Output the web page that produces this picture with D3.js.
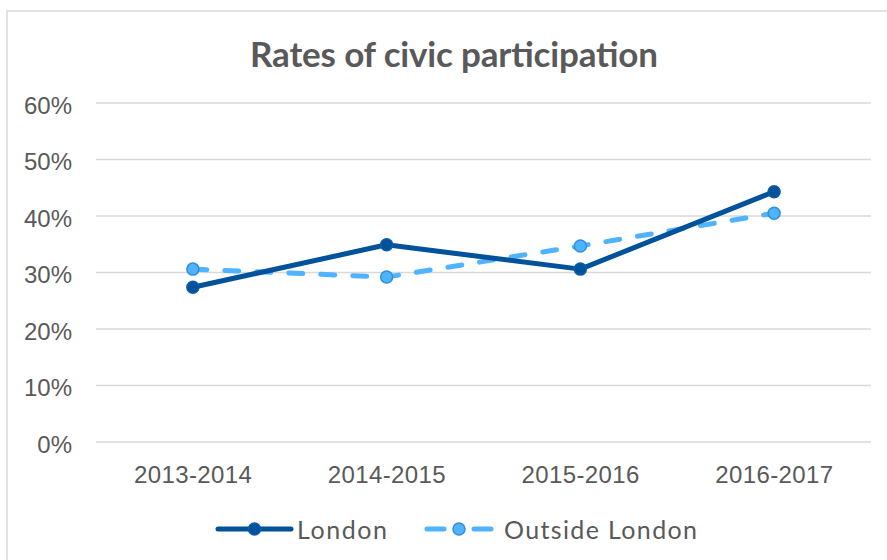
<!DOCTYPE html>
<html>
<head>
<meta charset="utf-8">
<title>Rates of civic participation</title>
<script src="https://d3js.org/d3.v7.min.js"></script>
<style>
    body { margin: 0; background: #fff; }
    svg { display: block; font-family: "Century Gothic", "Lato", "DejaVu Sans", sans-serif; }
    .frame { fill: none; stroke: #d9d9d9; stroke-width: 1.5px; }
    .grid line { stroke: #d9d9d9; stroke-width: 1.5px; }
    .axis text { fill: #595959; font-size: 24px; }
    .title { fill: #595959; font-size: 35px; font-weight: bold; }
    .legend text { fill: #595959; font-size: 25px; }
</style>
</head>
<body>
<svg width="887" height="560"></svg>
<script>
    // data
    var years = ["2013-2014", "2014-2015", "2015-2016", "2016-2017"];
    var london = [27.4, 34.9, 30.6, 44.3];
    var outside = [30.6, 29.2, 34.7, 40.5];
    var yTicks = [0, 10, 20, 30, 40, 50, 60];

    var series = [
        { name: "London", values: london, color: "#00529b", marker: "#0a5cad", dash: null },
        { name: "Outside London", values: outside, color: "#4fb3ff", marker: "#2f8fdc", dash: "14,18" }
    ];

    var svg = d3.select("svg");

    // chart area frame (cropped at right and bottom)
    svg.append("path").attr("class", "frame")
        .attr("d", "M7,600 L7,11 L900,11");

    svg.append("text").attr("class", "title")
        .attr("x", 250).attr("y", 67)
        .attr("textLength", 408)
        .text("Rates of civic participation");

    var x = d3.scaleBand().domain(years).range([96, 871]);
    var y = d3.scaleLinear().domain([0, 60]).range([442, 103]);

    // gridlines
    svg.append("g").attr("class", "grid")
        .selectAll("line").data(yTicks).enter().append("line")
        .attr("x1", 96).attr("x2", 871)
        .attr("y1", function (d) { return y(d); })
        .attr("y2", function (d) { return y(d); });

    var yAxis = svg.append("g").attr("class", "axis")
        .attr("transform", "translate(72,0)")
        .call(d3.axisLeft(y).tickValues(yTicks).tickSize(0).tickPadding(0)
            .tickFormat(function (d) { return d + "%"; }));
    yAxis.select(".domain").remove();
    yAxis.selectAll("text").attr("dy", "0.42em");

    var xAxis = svg.append("g").attr("class", "axis")
        .attr("transform", "translate(0,442)")
        .call(d3.axisBottom(x).tickSize(0).tickPadding(24));
    xAxis.select(".domain").remove();
    xAxis.selectAll("text").attr("textLength", 118);

    var line = d3.line()
        .x(function (d, i) { return x(years[i]) + x.bandwidth() / 2; })
        .y(function (d) { return y(d); });

    // draw outside london first, london on top
    [series[1], series[0]].forEach(function (s) {
        var g = svg.append("g");
        g.append("path")
            .attr("d", line(s.values))
            .attr("fill", "none")
            .attr("stroke", s.color)
            .attr("stroke-width", 5)
            .attr("stroke-linecap", "round")
            .attr("stroke-linejoin", "round")
            .attr("stroke-dasharray", s.dash);
        g.selectAll("circle").data(s.values).enter().append("circle")
            .attr("cx", function (d, i) { return x(years[i]) + x.bandwidth() / 2; })
            .attr("cy", function (d) { return y(d); })
            .attr("r", 6)
            .attr("fill", s.color)
            .attr("stroke", s.marker)
            .attr("stroke-width", 1.5);
    });

    // legend
    var legend = svg.append("g").attr("class", "legend");
    var legendX = [218, 427];
    var legendW = [73, 64];
    var textX = [297, 504];
    var textW = [90, 193];
    series.forEach(function (s, i) {
        var lg = legend.append("g").attr("transform", "translate(0,529)");
        lg.append("line")
            .attr("x1", legendX[i]).attr("x2", legendX[i] + legendW[i])
            .attr("stroke", s.color).attr("stroke-width", 5)
            .attr("stroke-linecap", "round")
            .attr("stroke-dasharray", s.dash ? "17,30" : null);
        lg.append("circle")
            .attr("cx", legendX[i] + legendW[i] / 2).attr("r", 6)
            .attr("fill", s.color).attr("stroke", s.marker).attr("stroke-width", 1.5);
        lg.append("text")
            .attr("x", textX[i]).attr("y", 10)
            .attr("textLength", textW[i])
            .text(s.name);
    });
</script>
</body>
</html>
